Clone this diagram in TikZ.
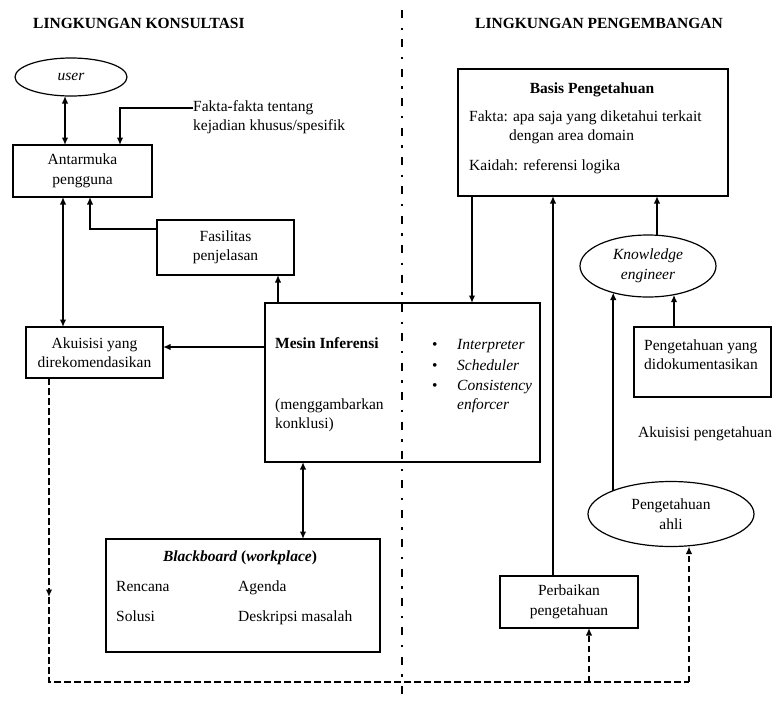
\documentclass[tikz,border=0pt]{standalone}
\usepackage{fontspec}
\setmainfont{Liberation Serif}
\usetikzlibrary{arrows.meta,shapes.geometric}

\begin{document}
\begin{tikzpicture}[x=1pt,y=-1pt,
  font=\fontsize{15.5pt}{19.5pt}\selectfont,
  box/.style={draw,line width=1.2pt,inner sep=0pt,outer sep=0pt,align=center},
  oval/.style={draw,ellipse,line width=1.2pt,inner sep=0pt,outer sep=0pt,align=center},
  tip/.tip={Latex[length=7.5pt,width=6.5pt]},
  conn/.style={line width=2.2pt,-tip},
  both/.style={line width=2.2pt,tip-tip},
  dsh/.style={line width=2.2pt,dash pattern=on 6.5pt off 3.5pt},
  sep/.style={line width=2.4pt,dash pattern=on 8pt off 9.5pt on 2.4pt off 9.5pt},
  txt/.style={anchor=base west,inner sep=0pt},
  ctxt/.style={anchor=base,inner sep=0pt},
  boldtxt/.style={font=\fontsize{15.5pt}{19.5pt}\selectfont\bfseries}
]
\useasboundingbox (0,0) rectangle (780,702);

% section titles and the divider between them
\node[txt,boldtxt] (tkons) at (33,28) {LINGKUNGAN KONSULTASI};
\node[txt,boldtxt] (tpeng) at (475,28) {LINGKUNGAN PENGEMBANGAN};
\coordinate (sepTop) at (402,10);
\coordinate (sepBot) at (402,700);
\draw[sep] (sepTop) -- (sepBot);

% consultation side
\node[oval,minimum width=112pt,minimum height=38pt] (user) at (71,77) {\textit{user}};
\node[box,minimum width=139pt,minimum height=52pt] (ant) at (82.5,171) {Antarmuka\\pengguna};
\node[box,minimum width=137pt,minimum height=55pt] (fas) at (225.5,247.5) {Fasilitas\\penjelasan};
\node[box,minimum width=137pt,minimum height=51pt] (aku) at (94.5,352.5) {Akuisisi yang\\direkomendasikan};
\node[txt] (fakta1) at (193,111) {Fakta-fakta tentang};
\node[txt] (fakta2) at (193,130) {kejadian khusus/spesifik};

% inference engine
\node[box,minimum width=275pt,minimum height=159pt] (mes) at (402.5,382.5) {};
\node[txt,boldtxt] (mestitle) at (275,348) {Mesin Inferensi};
\node[txt] (mes1) at (275,409) {(menggambarkan};
\node[txt] (mes2) at (275,428) {konklusi)};
\node[txt] (b1) at (432,349) {\textbullet};
\node[txt] (b2) at (432,370) {\textbullet};
\node[txt] (b3) at (432,390) {\textbullet};
\node[txt] (i1) at (457,349) {\textit{Interpreter}};
\node[txt] (i2) at (457,370) {\textit{Scheduler}};
\node[txt] (i3) at (457,390) {\textit{Consistency}};
\node[txt] (i4) at (457,409) {\textit{enforcer}};

% blackboard
\node[box,minimum width=274pt,minimum height=113pt] (bb) at (243,595.5) {};
\node[ctxt] (bbtitle) at (240,561) {\textbf{\textit{Blackboard} (\textit{workplace})}};
\node[txt] (bb1) at (116,591) {Rencana};
\node[txt] (bb2) at (238,591) {Agenda};
\node[txt] (bb3) at (116,621) {Solusi};
\node[txt] (bb4) at (238,621) {Deskripsi masalah};

% development side
\node[box,minimum width=270pt,minimum height=127pt] (kb) at (593,132.5) {};
\node[ctxt,boldtxt] (kbtitle) at (592,93) {Basis Pengetahuan};
\node[txt] (kb1) at (469,121) {Fakta: apa saja yang diketahui terkait};
\node[txt] (kb2) at (509,140) {dengan area domain};
\node[txt] (kb3) at (469,170) {Kaidah: referensi logika};

\node[oval,minimum width=136pt,minimum height=62pt] (ke) at (648,266) {\textit{Knowledge}\\\textit{engineer}};
\node[box,minimum width=137pt,minimum height=70pt] (dok) at (702.5,362) {};
\node[txt] (dok1) at (644,350) {Pengetahuan yang};
\node[txt] (dok2) at (644,369) {didokumentasikan};
\node[txt] (akp) at (638,437) {Akuisisi pengetahuan};
\node[oval,minimum width=166pt,minimum height=65pt] (ahli) at (671,514) {Pengetahuan\\ahli};
\node[box,minimum width=138pt,minimum height=52pt] (perb) at (569,602) {Perbaikan\\pengetahuan};

% solid connectors
\draw[both] ([xshift=-6pt]user.south) -- ([xshift=-6pt]user.south |- ant.north);
\coordinate (fkbend) at (120,108);
\draw[conn] (fakta1.west |- fkbend) -- (fkbend) -- (fkbend |- ant.north);
\coordinate (fsbend) at (90,229);
\draw[conn] (fas.west |- fsbend) -- (fsbend) -- (fsbend |- ant.south);
\draw[both] ([xshift=-19.5pt]ant.south) -- ([xshift=-19.5pt]ant.south |- aku.north);
\draw[conn] ([xshift=-124.5pt]mes.north) -- ([xshift=-124.5pt]mes.north |- fas.south);
\draw[conn] ([yshift=35.5pt]mes.west) -- ([yshift=35.5pt]mes.west -| aku.east);
\draw[both] ([xshift=-99.5pt]mes.south) -- ([xshift=-99.5pt]mes.south |- bb.north);
\draw[conn] ([xshift=-121pt]kb.south) -- ([xshift=-121pt]kb.south |- mes.north);
\draw[conn] ([xshift=-16pt]perb.north) -- ([xshift=-16pt]perb.north |- kb.south);
\draw[conn] ([xshift=9pt]ke.north) -- ([xshift=9pt]ke.north |- kb.south);
\draw[conn] ([xshift=-28.5pt]dok.north) -- ([xshift=-28.5pt]dok.north |- ke.-48);
\draw[conn] (ahli.158) -- (ahli.158 |- ke.-143);

% dashed feedback loop
\coordinate (d1) at (49,597);
\coordinate (d2) at (49,682);
\coordinate (d3) at (689,682);
\coordinate (d4) at (589,682);
\draw[dsh,-tip] (aku.south -| d1) -- (d1);
\draw[dsh] (d1) -- (d2) -- (d3);
\draw[dsh,-tip] (d3) -- (d3 |- ahli.south);
\draw[dsh,-tip] (d4) -- (d4 |- perb.south);
\end{tikzpicture}
\end{document}
